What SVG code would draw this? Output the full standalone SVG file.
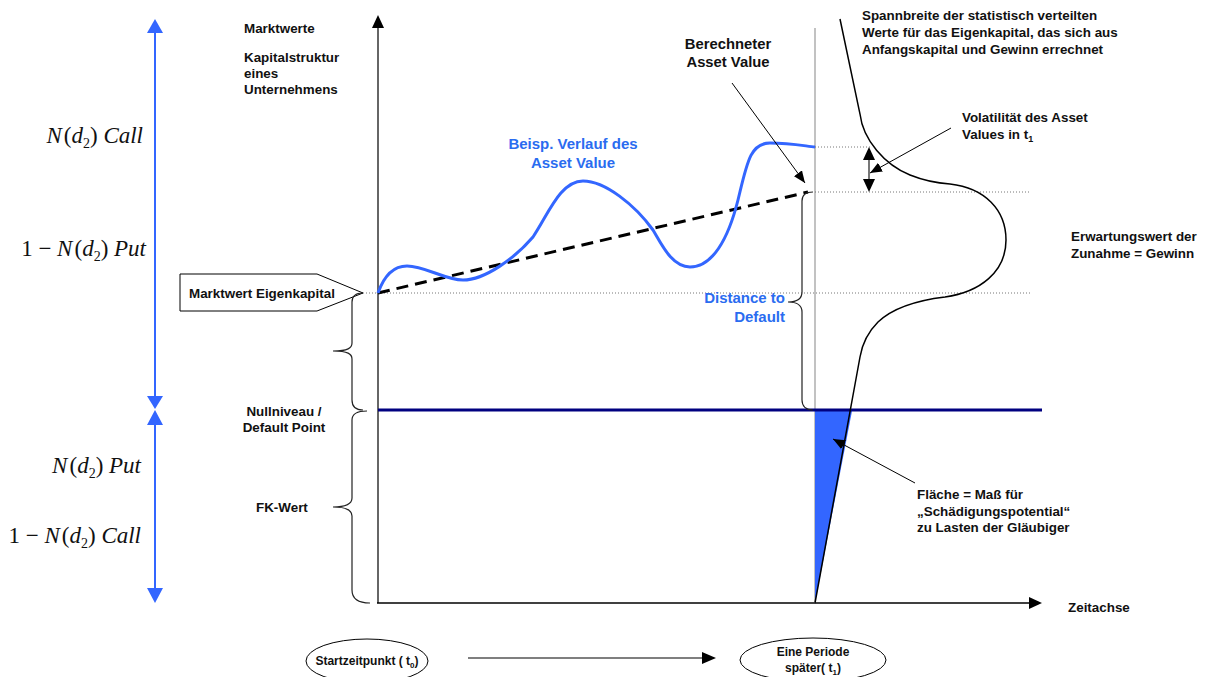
<svg xmlns="http://www.w3.org/2000/svg" width="1206" height="677" viewBox="0 0 1206 677">
<defs>
<style>
.lbl{font-family:"Liberation Sans",Arial,sans-serif;font-weight:bold;font-size:13.4px;fill:#111}
.big{font-size:14.8px}
.blue{font-family:"Liberation Sans",Arial,sans-serif;font-weight:bold;font-size:15px;fill:#2a6cf0}
.small{font-family:"Liberation Sans",Arial,sans-serif;font-weight:bold;font-size:12px;fill:#111}
.math{font-family:"Liberation Serif","Times New Roman",serif;font-size:23px;fill:#111}
.it{font-style:italic}
.dot{stroke:#777;stroke-width:1;stroke-dasharray:1 2;fill:none}
.thin{stroke:#000;stroke-width:1;fill:none}
.brace{stroke:#222;stroke-width:1.2;fill:none}
</style>
<marker id="ah" markerUnits="userSpaceOnUse" markerWidth="14" markerHeight="10" refX="12" refY="5" orient="auto"><path d="M0,0 L12,5 L0,10 z" fill="#000"/></marker>
</defs>

<g id="left-scale">
<line x1="155" y1="30" x2="155" y2="399" stroke="#3366ff" stroke-width="2"/>
<line x1="155" y1="422" x2="155" y2="590" stroke="#3366ff" stroke-width="2"/>
<polygon points="155,19 147,33 163,33" fill="#3366ff"/>
<polygon points="155,409 147,396 163,396" fill="#3366ff"/>
<polygon points="155,410 147,425 163,425" fill="#3366ff"/>
<polygon points="155,603 147,588 163,588" fill="#3366ff"/>
<text class="math" x="143" y="143" text-anchor="end"><tspan class="it">N</tspan><tspan dx="2">(</tspan><tspan class="it">d</tspan><tspan font-size="14" dy="5">2</tspan><tspan dy="-5">) </tspan><tspan class="it">Call</tspan></text>
<text class="math" x="146" y="256" text-anchor="end">1 − <tspan class="it">N</tspan><tspan dx="2">(</tspan><tspan class="it">d</tspan><tspan font-size="14" dy="5">2</tspan><tspan dy="-5">) </tspan><tspan class="it">Put</tspan></text>
<text class="math" x="141" y="473" text-anchor="end"><tspan class="it">N</tspan><tspan dx="2">(</tspan><tspan class="it">d</tspan><tspan font-size="14" dy="5">2</tspan><tspan dy="-5">) </tspan><tspan class="it">Put</tspan></text>
<text class="math" x="141" y="543" text-anchor="end">1 − <tspan class="it">N</tspan><tspan dx="2">(</tspan><tspan class="it">d</tspan><tspan font-size="14" dy="5">2</tspan><tspan dy="-5">) </tspan><tspan class="it">Call</tspan></text>
</g>

<g id="axes">
<line x1="378" y1="25" x2="378" y2="603" stroke="#666" stroke-width="2"/>
<polygon points="378,15 372,28 384,28" fill="#000"/>
<line x1="377" y1="603" x2="1030" y2="603" stroke="#000" stroke-width="1.5"/>
<polygon points="1042,603 1029,597 1029,609" fill="#000"/>
<line x1="815" y1="28" x2="815" y2="603" stroke="#999" stroke-width="1.2"/>
<text class="lbl" x="1068" y="612">Zeitachse</text>
</g>

<g id="axis-labels">
<text class="lbl" x="244" y="33">Marktwerte</text>
<text class="lbl" x="244" y="62">Kapitalstruktur</text>
<text class="lbl" x="244" y="78">eines</text>
<text class="lbl" x="244" y="94">Unternehmens</text>
</g>

<g id="guides">
<line class="dot" x1="363" y1="293" x2="1031" y2="293"/>
<line class="dot" x1="815" y1="147" x2="870" y2="147"/>
<line class="dot" x1="815" y1="192" x2="1031" y2="192"/>
</g>

<g id="default-line">
<polygon points="815,411 852,411 815,603" fill="#3366ff"/>
<line x1="378" y1="410" x2="1042" y2="410" stroke="#000080" stroke-width="3"/>
</g>

<g id="distribution">
<path d="M840,19 L860,114 C863,140 885,165 910,175 C925,181 935,183 950,184 C985,188 1006,210 1006,240 C1006,272 980,292 945,297 C920,300 895,306 878,322 C866,334 862,345 860,357 L815,603" fill="none" stroke="#000" stroke-width="1.5"/>
</g>

<g id="asset-path">
<line x1="378" y1="293" x2="808" y2="192" stroke="#000" stroke-width="3" stroke-dasharray="12 7"/>
<path d="M378,293 C384,276 394,266 407,266 C425,266 445,280 463,280 C485,280 515,258 533,237 C548,215 560,181 583,181 C605,181 635,205 653,230 C662,245 672,267 690,267 C712,267 728,240 738,200 C747,163 750,143 770,143 C790,143 805,146 815,147" fill="none" stroke="#3366ff" stroke-width="3"/>
<text class="blue" x="573" y="149" text-anchor="middle">Beisp. Verlauf des</text>
<text class="blue" x="573" y="168" text-anchor="middle">Asset Value</text>
</g>

<g id="eigenkapital">
<polygon points="180,274 317,274 363,293 317,311 180,311" fill="#fff" stroke="#000" stroke-width="1"/>
<text class="lbl" x="189" y="298">Marktwert Eigenkapital</text>
</g>

<g id="braces">
<path class="brace" d="M363,293 C355,293 352,296 352,302 L352,343 C352,348 348,351 333,351 C348,351 352,354 352,359 L352,400 C352,406 355,410 363,410"/>
<path class="brace" d="M367,411 C357,411 352,414 352,420 L352,498 C352,503 348,507 333,507 C348,507 352,511 352,516 L352,590 C352,598 358,603 370,603"/>
<path class="brace" d="M813,192 C806,192 802,195 802,201 L802,292 C802,298 798,302 788,302 C798,302 802,306 802,312 L802,400 C802,406 806,410 813,410"/>
<text class="lbl" x="284" y="416" text-anchor="middle">Nullniveau /</text>
<text class="lbl" x="284" y="432" text-anchor="middle">Default Point</text>
<text class="lbl" x="256" y="512">FK-Wert</text>
<text class="blue" x="785" y="303" text-anchor="end">Distance to</text>
<text class="blue" x="785" y="322" text-anchor="end">Default</text>
</g>

<g id="volatility">
<line x1="869" y1="157" x2="869" y2="182" stroke="#777" stroke-width="2"/>
<polygon points="869,147 863,160 875,160" fill="#000"/>
<polygon points="869,192 863,179 875,179" fill="#000"/>
<text class="lbl" x="962" y="122">Volatilität des Asset</text>
<text class="lbl" x="962" y="139">Values in t<tspan font-size="9" dy="3">1</tspan></text>
</g>

<g id="connectors">
<line class="thin" x1="732" y1="83" x2="805" y2="183" marker-end="url(#ah)"/>
<line class="thin" x1="951" y1="128" x2="870" y2="173" marker-end="url(#ah)"/>
<line class="thin" x1="915" y1="483" x2="833" y2="439" marker-end="url(#ah)"/>
<line x1="468" y1="658" x2="703" y2="658" stroke="#000" stroke-width="1.2"/>
<polygon points="716,658 702,652 702,664" fill="#000"/>
</g>

<g id="texts-right">
<text class="lbl big" x="728" y="49" text-anchor="middle">Berechneter</text>
<text class="lbl big" x="728" y="67" text-anchor="middle">Asset Value</text>
<text class="lbl" x="862" y="20">Spannbreite der statistisch verteilten</text>
<text class="lbl" x="862" y="37">Werte für das Eigenkapital, das sich aus</text>
<text class="lbl" x="862" y="54">Anfangskapital und Gewinn errechnet</text>
<text class="lbl" x="1071" y="241">Erwartungswert der</text>
<text class="lbl" x="1071" y="258">Zunahme = Gewinn</text>
<text class="lbl" x="917" y="499">Fläche = Maß für</text>
<text class="lbl" x="917" y="516">„Schädigungspotential“</text>
<text class="lbl" x="917" y="532">zu Lasten der Gläubiger</text>
</g>

<g id="start-node">
<ellipse cx="367" cy="661" rx="61" ry="22" fill="#fff" stroke="#000" stroke-width="1"/>
<text class="small" x="367" y="665" text-anchor="middle">Startzeitpunkt ( t<tspan font-size="8" dy="3">0</tspan><tspan dy="-3">)</tspan></text>
</g>
<g id="end-node">
<ellipse cx="813" cy="660" rx="73" ry="22" fill="#fff" stroke="#000" stroke-width="1"/>
<text class="small" x="813" y="656" text-anchor="middle">Eine Periode</text>
<text class="small" x="813" y="672" text-anchor="middle">später( t<tspan font-size="8" dy="3">1</tspan><tspan dy="-3">)</tspan></text>
</g>
</svg>
